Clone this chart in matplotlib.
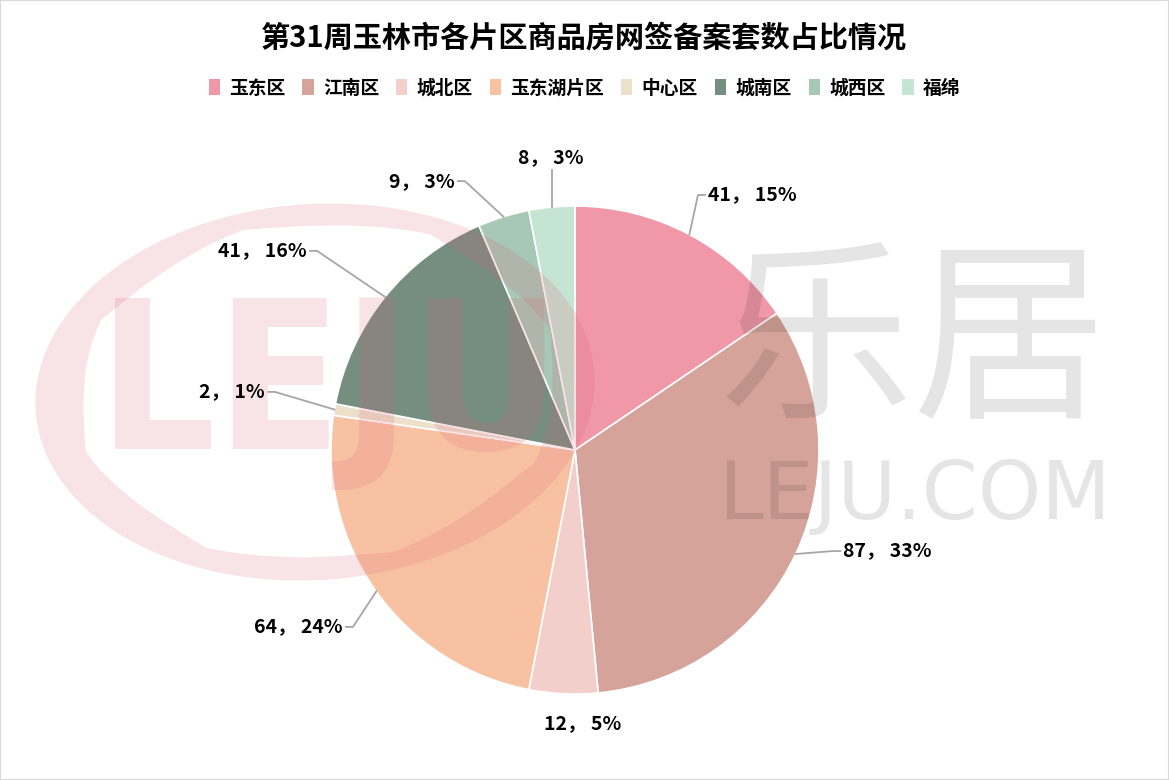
import matplotlib
matplotlib.use("Agg")
import matplotlib.pyplot as plt
from matplotlib.patches import Patch, PathPatch
from matplotlib.path import Path
import numpy as np

plt.rcParams['font.family'] = ['Noto Sans CJK SC', 'DejaVu Sans']

title = '第31周玉林市各片区商品房网签备案套数占比情况'
districts = ['玉东区', '江南区', '城北区', '玉东湖片区', '中心区', '城南区', '城西区', '福绵']
counts = [41, 87, 12, 64, 2, 41, 9, 8]
pct_labels = ['15%', '33%', '5%', '24%', '1%', '16%', '3%', '3%']
colors = ['#F098A8', '#D5A39A', '#F3CFCB', '#F8C2A2', '#EDE0CB', '#768E80', '#A8C8B6', '#C6E4D2']

# label anchor offsets from pie centre, in radii
label_dx = [0.545, 1.10, 0.033, -0.951, -1.27, -1.098, -0.492, -0.098]
label_dy = [1.045, -0.414, -1.123, -0.725, 0.238, 0.816, 1.102, 1.20]
label_ha = ['left', 'left', 'center', 'right', 'right', 'right', 'right', 'center']

W, H = 1169, 780
fig = plt.figure(figsize=(W / 100, H / 100), dpi=100)
fig.patch.set_facecolor('white')
ax = fig.add_axes([0, 0, 1, 1])

cx, cy, R = 575, H - 450, 244
ax.pie(counts, colors=colors, startangle=90, counterclock=False,
       center=(cx, cy), radius=R, frame=True,
       wedgeprops=dict(edgecolor='white', linewidth=1.2))
ax.set_xlim(0, W)
ax.set_ylim(0, H)
ax.set_aspect('equal')
ax.axis('off')

total = sum(counts)
cum = np.cumsum([0] + counts)
for i, (c, p) in enumerate(zip(counts, pct_labels)):
    mid = (cum[i] + c / 2) / total * 360
    phi = np.deg2rad(90 - mid)
    px, py = cx + R * np.cos(phi), cy + R * np.sin(phi)
    tx, ty = cx + R * label_dx[i], cy + R * label_dy[i]
    ha = label_ha[i]
    ax.text(tx, ty, f'{c}， {p}', ha=ha, va='center', fontsize=14,
            fontweight='bold', color='black', zorder=6)
    if ha == 'left':
        xs, ys = [px, tx - 10, tx - 3], [py, ty, ty]
    elif ha == 'right':
        xs, ys = [px, tx + 10, tx + 3], [py, ty, ty]
    else:
        end = ty - 13 if py < ty else ty + 13
        if abs(end - py) < 25:
            continue
        xs, ys = [px, px], [py, end]
    ax.plot(xs, ys, color='#a6a6a6', lw=1.3, zorder=5)

# watermark
pink = (0.86, 0.35, 0.45)
circ = Path.unit_circle()
tr_o = matplotlib.transforms.Affine2D().scale(280, 188).rotate_deg(4).translate(315, H - 392)
tr_i = matplotlib.transforms.Affine2D().scale(236, 166).rotate_deg(4).translate(318, H - 391)
vo = tr_o.transform(circ.vertices)
vi = tr_i.transform(circ.vertices)[::-1]
ring = Path(np.vstack([vo, vi]), np.concatenate([circ.codes, circ.codes]))
ax.add_patch(PathPatch(ring, facecolor=pink, edgecolor='none', alpha=0.17, zorder=4))
ax.text(330, H - 392, 'LEJU', fontsize=148, fontweight='bold', family='DejaVu Sans',
        fontstretch='condensed', color=pink, alpha=0.17, ha='center', va='center', zorder=4)
ax.text(913, H - 348, '乐居', fontsize=140, color='black', alpha=0.1,
        ha='center', va='center', zorder=4)
ax.text(915, H - 497, 'LEJU.COM', fontsize=58, family='DejaVu Sans', color='black',
        alpha=0.1, ha='center', va='center', zorder=4)

fig.text(0.5, 1 - 38 / H, title, ha='center', va='center', fontsize=21, fontweight='bold')

handles = [Patch(facecolor=col, edgecolor='none') for col in colors]
fig.legend(handles, districts, loc='center', bbox_to_anchor=(0.5, 1 - 88 / H), ncol=8,
           frameon=False, handlelength=0.6, handleheight=1.0, handletextpad=0.5,
           columnspacing=0.9, prop=dict(size=13.5, weight='bold'))

fig.patches.append(plt.Rectangle((0, 0), 1, 1, transform=fig.transFigure, fill=False,
                                 edgecolor='#d9d9d9', linewidth=1.5))
fig.savefig('out.png', dpi=100, facecolor='white')
